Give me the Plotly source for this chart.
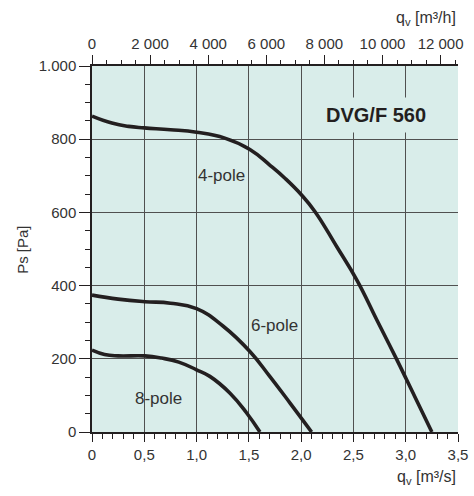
import plotly.graph_objects as go

# ---- data ----
q_4pole = [0, 0.19, 0.35, 0.5, 0.75, 1.0, 1.27, 1.51, 1.705, 1.85, 2.006, 2.133, 2.341, 2.533, 2.724, 2.916, 3.01, 3.25]
p_4pole = [863, 844, 835, 831, 826, 819, 803, 772, 728, 692, 647, 602, 506, 415, 306, 197, 142, 0]

q_6pole = [0, 0.25, 0.505, 0.75, 1.0, 1.255, 1.51, 1.70, 1.894, 2.10]
p_6pole = [374, 363, 356, 352, 337, 289, 220, 152, 79, 0]

q_8pole = [0, 0.12, 0.25, 0.505, 0.665, 0.83, 1.0, 1.127, 1.32, 1.479, 1.606]
p_8pole = [224, 212, 208, 208, 202, 191, 170, 152, 106, 52, 0]

x_ticks = [0, 0.5, 1.0, 1.5, 2.0, 2.5, 3.0, 3.5]
x_ticklabels = ["0", "0,5", "1,0", "1,5", "2,0", "2,5", "3,0", "3,5"]
x2_ticks = [0, 2000, 4000, 6000, 8000, 10000, 12000]
x2_ticklabels = ["0", "2 000", "4 000", "6 000", "8 000", "10 000", "12 000"]
y_ticks = [0, 200, 400, 600, 800, 1000]
y_ticklabels = ["0", "200", "400", "600", "800", "1.000"]

curve_labels = ["4-pole", "6-pole", "8-pole"]
label_x = [1.24, 1.743, 0.637]
label_y = [702, 291, 91]
title_text = "DVG/F 560"

X_MAX = 3.5
Y_MAX = 1000
M3H_PER_M3S = 3600

BG = "#d9edea"
GRID = "#505050"
INK = "#231f20"
FONT = "Liberation Sans, Arial, Helvetica, sans-serif"

fig = go.Figure()
for xs, ys in [(q_4pole, p_4pole), (q_6pole, p_6pole), (q_8pole, p_8pole)]:
    fig.add_trace(go.Scatter(x=xs, y=ys, mode="lines",
                             line=dict(color=INK, width=3.6, shape="spline", smoothing=1.3),
                             hoverinfo="skip", showlegend=False))

# invisible trace to bind the top m3/h axis
fig.add_trace(go.Scatter(x=[0, X_MAX * M3H_PER_M3S], y=[None, None], xaxis="x2",
                         mode="lines", showlegend=False, hoverinfo="skip"))

for t, xv, yv in zip(curve_labels, label_x, label_y):
    fig.add_annotation(x=xv, y=yv, text=t, showarrow=False,
                       font=dict(family=FONT, size=17, color="#333333"))

fig.add_annotation(x=2.716, y=866, text="<b>" + title_text + "</b>", showarrow=False,
                   font=dict(family=FONT, size=20, color=INK),
                   bgcolor=BG, borderpad=6)

fig.add_annotation(xref="paper", yref="paper", x=1.0, y=1.13, xanchor="right", yanchor="middle",
                   text="q<sub>v</sub> [m³/h]", showarrow=False,
                   font=dict(family=FONT, size=16, color="#333333"))
fig.add_annotation(xref="paper", yref="paper", x=1.0, y=-0.125, xanchor="right", yanchor="middle",
                   text="q<sub>v</sub> [m³/s]", showarrow=False,
                   font=dict(family=FONT, size=16, color="#333333"))
fig.add_annotation(xref="paper", yref="paper", x=-0.192, y=0.497, textangle=-90,
                   xanchor="center", yanchor="middle",
                   text="Ps [Pa]", showarrow=False,
                   font=dict(family=FONT, size=15, color="#333333"))

tickfont = dict(family=FONT, size=15, color="#333333")

fig.update_layout(
    width=474, height=496,
    margin=dict(l=92, r=16, t=66, b=64, autoexpand=False),
    paper_bgcolor="white", plot_bgcolor=BG,
    xaxis=dict(range=[0, X_MAX], tickmode="array", tickvals=x_ticks, ticktext=x_ticklabels,
               showgrid=True, gridcolor=GRID, gridwidth=1.2, automargin=False,
               ticks="outside", ticklen=8, tickcolor=INK, tickwidth=1,
               showline=True, linecolor=INK, linewidth=1.5,
               minor=dict(dtick=0.1, tick0=0, ticks="outside", ticklen=5, tickcolor=INK, showgrid=False),
               tickfont=tickfont, zeroline=False, fixedrange=True),
    xaxis2=dict(range=[0, X_MAX * M3H_PER_M3S], overlaying="x", side="top", anchor="y",
                tickmode="array", tickvals=x2_ticks, ticktext=x2_ticklabels, automargin=False,
                showgrid=False, ticks="outside", ticklen=9, tickcolor=INK,
                showline=True, linecolor=INK, linewidth=1.5,
                minor=dict(dtick=500, tick0=0, ticks="outside", ticklen=4, tickcolor=INK, showgrid=False),
                tickfont=tickfont, zeroline=False, fixedrange=True),
    yaxis=dict(range=[0, Y_MAX], tickmode="array", tickvals=y_ticks, ticktext=y_ticklabels,
               showgrid=True, gridcolor=GRID, gridwidth=1.2, automargin=False,
               ticks="outside", ticklen=11, tickcolor=INK,
               showline=True, linecolor=INK, linewidth=1.5,
               minor=dict(dtick=50, tick0=0, ticks="outside", ticklen=5, tickcolor=INK, showgrid=False),
               tickfont=tickfont, zeroline=False, fixedrange=True),
)

fig.write_html("out.html", config={"displayModeBar": False},
               post_script="document.body.style.margin='0';document.body.style.overflow='hidden';")
